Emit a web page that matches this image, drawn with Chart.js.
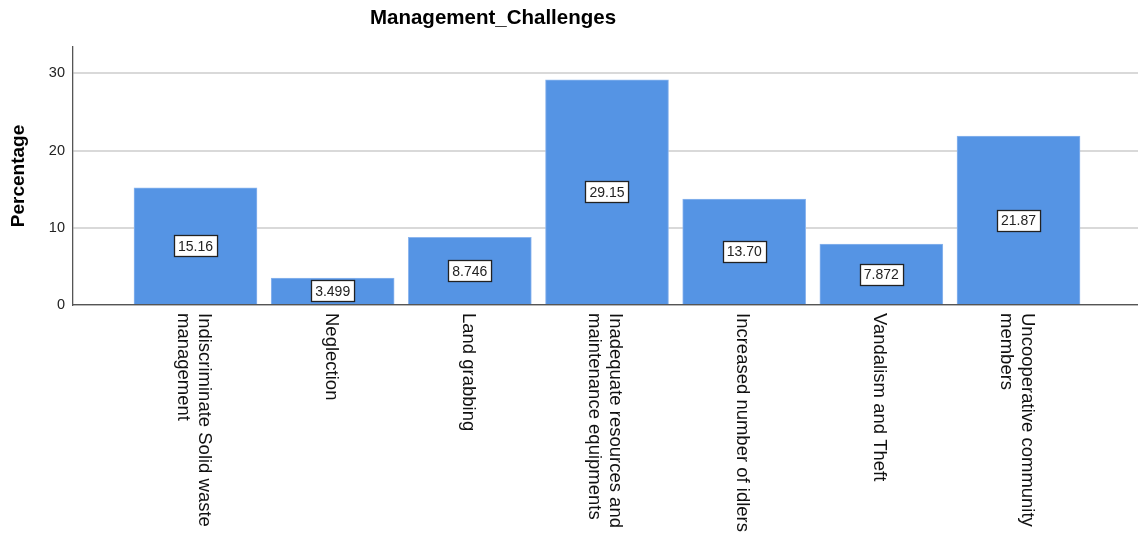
<!DOCTYPE html>
<html>
<head>
<meta charset="utf-8">
<script src="https://cdn.jsdelivr.net/npm/chart.js@4.4.1/dist/chart.umd.min.js"></script>
<style>
    html, body { margin: 0; padding: 0; background: #fff; overflow: hidden; }
    #wrap { width: 1138px; height: 535px; position: relative; }
</style>
</head>
<body>
<div id="wrap"><canvas id="chart"></canvas></div>
<script>
/* Management_Challenges - bar chart */

const chartTitle = 'Management_Challenges';
const yTitle = 'Percentage';
const categories = [
    ['Indiscriminate Solid waste', 'management'],
    ['Neglection'],
    ['Land grabbing'],
    ['Inadequate resources and', 'maintenance equipments'],
    ['Increased number of idlers'],
    ['Vandalism and Theft'],
    ['Uncooperative community', 'members']
];
const percentages = [15.16, 3.499, 8.746, 29.15, 13.70, 7.872, 21.87];
const yTicks = [0, 10, 20, 30];

const FONT = '"Liberation Sans", Arial, sans-serif';

// title drawn above the plot (SPSS puts it left of centre)
const titlePlugin = {
    id: 'spssTitle',
    afterDraw(chart) {
        const ctx = chart.ctx;
        ctx.save();
        ctx.font = 'bold 20.5px ' + FONT;
        ctx.fillStyle = '#000';
        ctx.textAlign = 'center';
        ctx.textBaseline = 'middle';
        ctx.fillText(chartTitle, 493, 18);
        ctx.restore();
    }
};

// category labels, rotated clockwise, reading top to bottom
const xLabelPlugin = {
    id: 'rotatedLabels',
    afterDraw(chart) {
        const ctx = chart.ctx;
        const xs = chart.scales.x;
        const top = chart.chartArea.bottom + 8;
        ctx.save();
        ctx.font = '18.5px ' + FONT;
        ctx.fillStyle = '#111';
        ctx.textAlign = 'left';
        ctx.textBaseline = 'middle';
        categories.forEach((lines, i) => {
            const cx = xs.getPixelForValue(i) - 2;
            const lh = 21;
            lines.forEach((line, j) => {
                const off = ((lines.length - 1) / 2 - j) * lh;
                ctx.save();
                ctx.translate(cx + off, top);
                ctx.rotate(Math.PI / 2);
                ctx.fillText(line, 0, 0);
                ctx.restore();
            });
        });
        ctx.restore();
    }
};

// boxed value labels in the middle of each bar
const valueLabelPlugin = {
    id: 'valueLabels',
    afterDatasetsDraw(chart) {
        const ctx = chart.ctx;
        const meta = chart.getDatasetMeta(0);
        ctx.save();
        ctx.font = '14px ' + FONT;
        ctx.textAlign = 'center';
        ctx.textBaseline = 'middle';
        meta.data.forEach((bar, i) => {
            const text = percentages[i].toPrecision(4);
            const w = ctx.measureText(text).width + 8;
            const h = 21;
            let cy = (bar.y + bar.base) / 2;
            if (cy + h / 2 > bar.base - 1) cy = bar.base - 1 - h / 2;
            const x0 = Math.round(bar.x - w / 2) + 0.5;
            const y0 = Math.round(cy - h / 2) + 0.5;
            ctx.fillStyle = '#fff';
            ctx.fillRect(x0, y0, w, h);
            ctx.strokeStyle = '#222';
            ctx.lineWidth = 1.3;
            ctx.strokeRect(x0, y0, w, h);
            ctx.fillStyle = '#222';
            ctx.fillText(text, bar.x, cy + 1);
        });
        ctx.restore();
    }
};

new Chart(document.getElementById('chart'), {
    type: 'bar',
    data: {
        datasets: [{
            data: percentages.map((v, i) => ({ x: i, y: v })),
            backgroundColor: '#5594e4',
            borderColor: '#8db6ee',
            borderWidth: 1,
            barThickness: 123
        }]
    },
    options: {
        responsive: true,
        maintainAspectRatio: false,
        animation: false,
        layout: { padding: { top: 47, right: 0, left: 0, bottom: 0 } },
        plugins: {
            legend: { display: false },
            tooltip: { enabled: false }
        },
        scales: {
            x: {
                type: 'linear',
                min: -0.893,
                max: 6.871,
                offset: false,
                z: 1,
                grid: { display: false, drawTicks: false, offset: false },
                border: { display: true, color: '#555', width: 1.3 },
                ticks: { display: false },
                afterFit: s => { s.height = 230; }
            },
            y: {
                min: 0,
                max: 33.4,
                afterBuildTicks: s => { s.ticks = yTicks.map(v => ({ value: v })); },
                grid: { color: '#d9d9d9', lineWidth: 2, drawTicks: false },
                border: { display: true, color: '#555', width: 1.3 },
                ticks: {
                    padding: 8,
                    color: '#222',
                    font: { family: FONT, size: 14.5 }
                },
                title: {
                    display: true,
                    text: yTitle,
                    color: '#000',
                    font: { family: FONT, size: 19, weight: 'bold' },
                    padding: { top: 7, bottom: 0 }
                },
                afterFit: s => { s.width = 73; }
            }
        }
    },
    plugins: [titlePlugin, xLabelPlugin, valueLabelPlugin]
});
</script>
</body>
</html>
